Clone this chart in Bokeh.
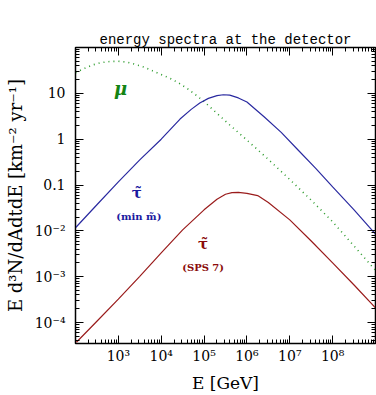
from bokeh.plotting import figure
from bokeh.models import LogAxis, LogTicker, CustomJSTickFormatter, Label, Range1d, Title
from bokeh.embed import file_html
from bokeh.resources import INLINE

# ---- data ----
MU_E = [1.0e2, 1.58e2, 2.51e2, 3.98e2, 6.31e2, 1.0e3, 1.585e3, 2.512e3, 3.981e3,
        6.31e3, 1.0e4, 1.585e4, 2.512e4, 3.981e4, 6.31e4, 1.0e5, 1.585e5, 3.981e5,
        1.0e6, 3.162e6, 1.0e7, 3.162e7, 1.0e8, 3.162e8, 1.0e9]
MU_F = [28.2, 34.7, 41.7, 46.8, 49.5, 50.1, 47.9, 42.7, 37.2,
        30.9, 25.7, 21.4, 17.0, 12.9, 9.33, 6.61, 4.47, 2.04,
        0.955, 0.363, 0.132, 0.0468, 0.0158, 0.00468, 0.00138]

MIN_E = [1.0e2, 3.16e2, 1.0e3, 3.16e3, 1.0e4, 2.75e4, 5.01e4, 7.94e4, 1.26e5,
         2.0e5, 2.82e5, 3.98e5, 6.31e5, 1.0e6, 2.51e6, 6.31e6, 1.58e7, 3.98e7,
         1.0e8, 3.16e8, 1.0e9]
MIN_F = [0.0117, 0.0372, 0.117, 0.355, 1.0, 2.75, 4.47, 6.17, 7.76,
         8.91, 9.33, 9.12, 7.94, 6.46, 3.09, 1.41, 0.575, 0.234,
         0.0912, 0.0288, 0.00851]

SPS_E = [1.05e2, 3.16e2, 1.0e3, 3.16e3, 1.0e4, 3.162e4, 1.0e5, 2.0e5, 3.16e5,
         4.47e5, 6.31e5, 1.0e6, 1.78e6, 3.16e6, 1.0e7, 3.16e7, 1.0e8, 3.16e8, 1.0e9]
SPS_F = [3.72e-5, 1.07e-4, 3.24e-4, 1.02e-3, 3.31e-3, 0.0105, 0.0288, 0.049, 0.0631,
         0.0684, 0.0692, 0.0661, 0.0589, 0.0417, 0.0174, 6.03e-3, 2.0e-3, 6.61e-4, 2.09e-4]

X_TICKS = [1e3, 1e4, 1e5, 1e6, 1e7, 1e8]
X_TICK_LABELS = ["10³", "10⁴", "10⁵", "10⁶", "10⁷", "10⁸"]
Y_TICKS = [1e-4, 1e-3, 1e-2, 1e-1, 1, 10]
Y_TICK_LABELS = ["10⁻⁴", "10⁻³", "10⁻²", "0.1", "1", "10"]

TITLE = "energy spectra at the detector"
SERIF = "DejaVu Serif"

p = figure(width=376, height=395, x_axis_type="log", y_axis_type="log",
           x_range=Range1d(1e2, 1e9), y_range=Range1d(3.5e-5, 1e2),
           output_backend="svg", toolbar_location=None, title=".")
p.min_border_left = 75
p.min_border_right = 1
p.min_border_top = 47
p.min_border_bottom = 51
p.grid.visible = False
p.outline_line_color = "black"
p.outline_line_width = 1.5
p.background_fill_color = "white"
p.border_fill_color = "white"

# the built-in title is used as an invisible spacer next to the frame
p.title.text_font = "Liberation Mono"
p.title.text_font_size = "14px"
p.title.text_alpha = 0
p.title.standoff = 6

def fmt(vals, labels):
    return CustomJSTickFormatter(args=dict(vals=vals, labels=labels), code="""
        for (let i = 0; i < vals.length; i++) {
            if (Math.abs(Math.log10(tick) - Math.log10(vals[i])) < 1e-6) return labels[i];
        }
        return ' ';
    """)

def style(ax):
    ax.major_tick_in = 8
    ax.major_tick_out = 0
    ax.minor_tick_in = 4
    ax.minor_tick_out = 0
    ax.axis_line_color = "black"
    ax.axis_line_width = 1
    ax.major_tick_line_color = "black"
    ax.minor_tick_line_color = "black"

p.xaxis.ticker = LogTicker(desired_num_ticks=10, num_minor_ticks=10)
p.yaxis.ticker = LogTicker(desired_num_ticks=10, num_minor_ticks=10)
p.xaxis.formatter = fmt(X_TICKS, X_TICK_LABELS)
p.yaxis.formatter = fmt(Y_TICKS, Y_TICK_LABELS)
for ax in p.xaxis + p.yaxis:
    style(ax)
    ax.major_label_text_font = SERIF
    ax.major_label_text_font_size = "14px"
    ax.major_label_text_color = "black"
    ax.axis_label_text_font = SERIF
    ax.axis_label_text_font_style = "normal"
    ax.axis_label_text_color = "black"
p.xaxis.axis_label_text_font_size = "17px"
p.yaxis.axis_label_text_font_size = "18px"
p.xaxis.major_label_standoff = 4
p.yaxis.major_label_standoff = 10
p.xaxis.axis_label = "E [GeV]"
p.yaxis.axis_label = "E d³N/dAdtdE [km⁻² yr⁻¹]"
p.xaxis.axis_label_standoff = 6
p.yaxis.axis_label_standoff = 6

for place in ("above", "right"):
    ax = LogAxis(ticker=LogTicker(desired_num_ticks=10, num_minor_ticks=10),
                 formatter=CustomJSTickFormatter(code="return ' ';"))
    style(ax)
    ax.major_label_text_font_size = "1px"
    ax.major_label_text_color = None
    ax.major_label_standoff = 0
    p.add_layout(ax, place)

# the visible title, placed outside the spacer
p.add_layout(Title(text=TITLE, text_font="Liberation Mono", text_font_size="14px",
                   text_font_style="normal", text_color="black", align="center",
                   offset=-5, standoff=0), "above")

p.line(MU_E, MU_F, line_color="#2a9a2a", line_width=1.6, line_dash="1 4")
p.line(MIN_E, MIN_F, line_color="#2a2aa0", line_width=1.2)
p.line(SPS_E, SPS_F, line_color="#9a1c1c", line_width=1.2)

def lab(x, y, text, color, size, style="normal"):
    p.add_layout(Label(x=x, y=y, text=text, text_color=color, text_font=SERIF,
                       text_font_size=size, text_font_style=style,
                       text_align="center", text_baseline="middle"))

lab(1.12e3, 12.9, "μ", "#138413", "18px", "bold italic")
lab(2.7e3, 0.066, "τ̃", "#1a1aa0", "15px", "bold")
lab(3.0e3, 0.0205, "(min m̃)", "#1a1aa0", "10px", "bold")
lab(9.5e4, 0.0052, "τ̃", "#8b0b0b", "15px", "bold")
lab(9.5e4, 0.00157, "(SPS 7)", "#8b0b0b", "10px", "bold")

open("out.html", "w").write(file_html(p, INLINE))
